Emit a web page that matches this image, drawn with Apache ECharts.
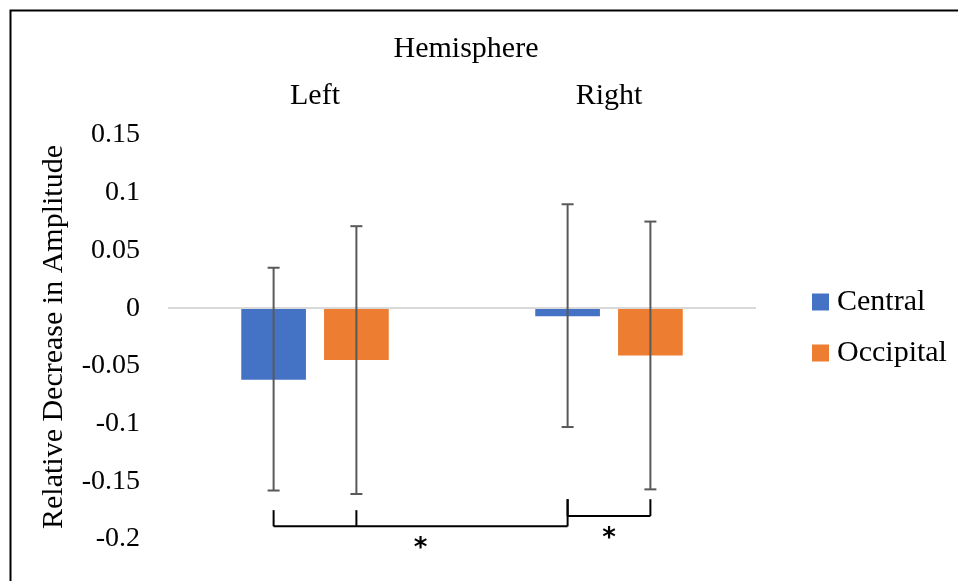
<!DOCTYPE html>
<html>
<head>
<meta charset="utf-8">
<script src="https://cdn.jsdelivr.net/npm/echarts@6/dist/echarts.min.js"></script>
<style>html,body{margin:0;padding:0;background:#fff}#chart{width:958px;height:581px}</style>
</head>
<body>
<div id="chart"></div>
<script>
// ---- data ----
const categories = ['Left', 'Right'];
const seriesNames = ['Central', 'Occipital'];
const centralValues = [-0.062, -0.007];
const occipitalValues = [-0.045, -0.041];
const centralErrLow = [-0.158, -0.103];
const centralErrHigh = [0.035, 0.090];
const occipitalErrLow = [-0.161, -0.157];
const occipitalErrHigh = [0.071, 0.075];
const yMin = -0.2, yMax = 0.15, yInterval = 0.05;
const axisTitle = 'Relative Decrease in Amplitude';
const chartTitle = 'Hemisphere';
// significance brackets: legs are [categoryIndex, seriesIndex, legTopValue]
const bracketLegs = [
  [[0, 0, -0.175], [0, 1, -0.175], [1, 0, -0.1655]],
  [[1, 0, -0.1655], [1, 1, -0.1655]]
];
const bracketLevels = [-0.189, -0.180];
const bracketLabels = ['*', '*'];

const FONT = 'Liberation Serif';
const BAR_W = 0.22, BAR_GAP = 0.28;
const colors = ['#4472C4', '#ED7D31'];

function offsetFor(api, s) {
  const band = api.size([1, 0])[0];
  const w = band * BAR_W;
  const d = (w * (1 + BAR_GAP)) / 2;
  return s === 0 ? -d : d;
}

function errSeries(sIdx, lows, highs) {
  return {
    type: 'custom',
    name: seriesNames[sIdx] + ' error',
    silent: true,
    z: 5,
    encode: { x: 0, y: [1, 2] },
    data: categories.map((c, i) => [i, lows[i], highs[i]]),
    renderItem: function (params, api) {
      const ci = api.value(0);
      const lo = api.coord([ci, api.value(1)]);
      const hi = api.coord([ci, api.value(2)]);
      const x = lo[0] + offsetFor(api, sIdx);
      const cap = 6;
      const st = { stroke: '#595959', lineWidth: 2 };
      return {
        type: 'group',
        children: [
          { type: 'line', shape: { x1: x, y1: lo[1], x2: x, y2: hi[1] }, style: st },
          { type: 'line', shape: { x1: x - cap, y1: lo[1], x2: x + cap, y2: lo[1] }, style: st },
          { type: 'line', shape: { x1: x - cap, y1: hi[1], x2: x + cap, y2: hi[1] }, style: st }
        ]
      };
    }
  };
}

const bracketSeries = {
  type: 'custom',
  name: 'brackets',
  silent: true,
  z: 6,
  encode: { x: 0, y: 1 },
  data: bracketLevels.map((lv, i) => [0, lv]),
  renderItem: function (params, api) {
    const bi = params.dataIndex;
    const legs = bracketLegs[bi];
    const level = bracketLevels[bi];
    const st = { stroke: '#000', lineWidth: 2 };
    const children = [];
    let xmin = Infinity, xmax = -Infinity, yLevel = 0;
    legs.forEach(function (lg) {
      const p = api.coord([lg[0], level]);
      const t = api.coord([lg[0], lg[2]]);
      const x = p[0] + offsetFor(api, lg[1]);
      yLevel = p[1];
      xmin = Math.min(xmin, x); xmax = Math.max(xmax, x);
      children.push({ type: 'line', shape: { x1: x, y1: t[1], x2: x, y2: p[1] }, style: st });
    });
    children.push({ type: 'line', shape: { x1: xmin, y1: yLevel, x2: xmax, y2: yLevel }, style: st });
    children.push({
      type: 'text',
      style: {
        text: bracketLabels[bi], x: (xmin + xmax) / 2, y: yLevel + 10,
        align: 'center', verticalAlign: 'top',
        font: 'bold 26px "DejaVu Sans"', fill: '#000'
      }
    });
    return { type: 'group', children: children };
  }
};

const chart = echarts.init(document.getElementById('chart'));
chart.setOption({
  animation: false,
  color: colors,
  textStyle: { fontFamily: FONT },
  title: {
    text: chartTitle, left: 461, top: 29, textAlign: 'center',
    textStyle: { fontFamily: FONT, fontSize: 30, fontWeight: 'normal', color: '#000' }
  },
  legend: {
    orient: 'vertical', left: 807, top: 282,
    itemWidth: 17, itemHeight: 17, itemGap: 21, icon: 'rect',
    data: seriesNames,
    textStyle: { fontFamily: FONT, fontSize: 30, color: '#000', padding: [0, 0, 0, 3] }
  },
  grid: { left: 168, right: 202, top: 135, bottom: 42 },
  xAxis: {
    type: 'category', data: categories, position: 'top',
    axisLine: { show: false }, axisTick: { show: false },
    axisLabel: { fontFamily: FONT, fontSize: 30, color: '#000', margin: 24 }
  },
  yAxis: {
    type: 'value', min: yMin, max: yMax, interval: yInterval,
    name: axisTitle, nameLocation: 'middle', nameGap: 99,
    nameTextStyle: { fontFamily: FONT, fontSize: 30, color: '#000' },
    axisLine: { show: false }, axisTick: { show: false }, splitLine: { show: false },
    axisLabel: { fontFamily: FONT, fontSize: 28, color: '#000', margin: 28 }
  },
  series: [
    {
      type: 'bar', name: seriesNames[0], data: centralValues,
      barWidth: (BAR_W * 100) + '%', barGap: (BAR_GAP * 100) + '%',
      itemStyle: { color: colors[0] },
      markLine: {
        silent: true, symbol: ['none', 'none'], label: { show: false },
        lineStyle: { color: '#D9D9D9', type: 'solid', width: 2 },
        data: [{ yAxis: 0 }]
      }
    },
    {
      type: 'bar', name: seriesNames[1], data: occipitalValues,
      barWidth: (BAR_W * 100) + '%', barGap: (BAR_GAP * 100) + '%',
      itemStyle: { color: colors[1] }
    },
    errSeries(0, centralErrLow, centralErrHigh),
    errSeries(1, occipitalErrLow, occipitalErrHigh),
    bracketSeries
  ],
  graphic: [{
    type: 'rect', left: 8, top: 8, silent: true,
    shape: { x: 0, y: 0, width: 1000, height: 1000 },
    style: { fill: 'none', stroke: '#000', lineWidth: 2 }
  }]
});
</script>
</body>
</html>
